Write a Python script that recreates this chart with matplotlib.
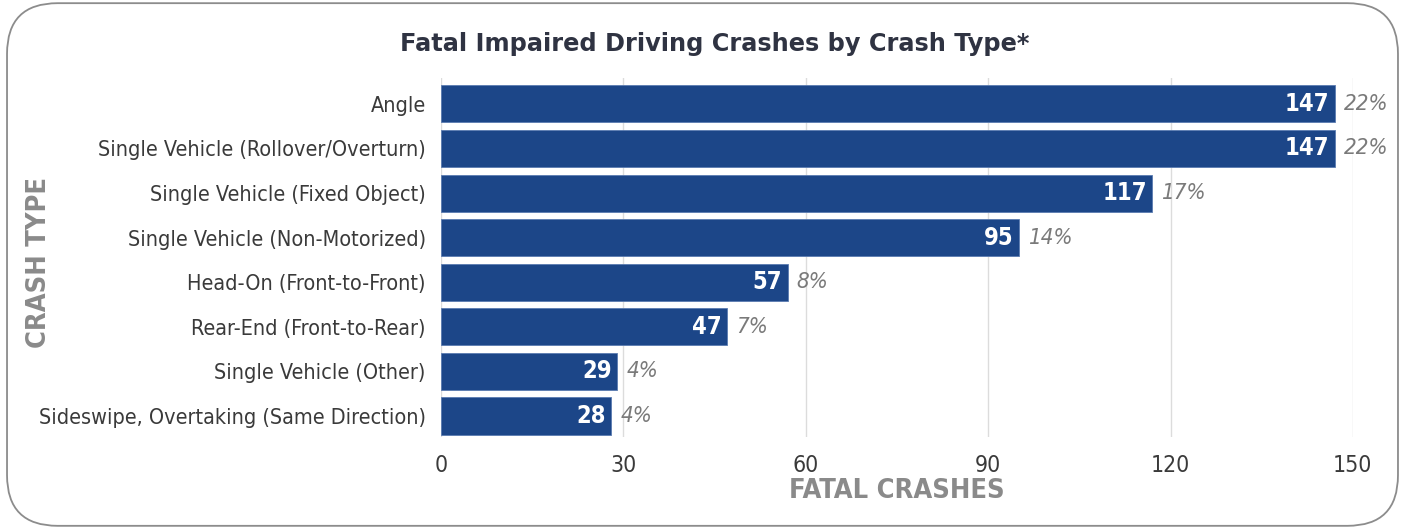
import matplotlib.pyplot as plt
from matplotlib.patches import FancyBboxPatch

# данные
crash_types = ['Angle', 'Single Vehicle (Rollover/Overturn)', 'Single Vehicle (Fixed Object)',
               'Single Vehicle (Non-Motorized)', 'Head-On (Front-to-Front)', 'Rear-End (Front-to-Rear)',
               'Single Vehicle (Other)', 'Sideswipe, Overtaking (Same Direction)']
crashes = [147, 147, 117, 95, 57, 47, 29, 28]
shares = ['22%', '22%', '17%', '14%', '8%', '7%', '4%', '4%']
x_ticks = [0, 30, 60, 90, 120, 150]

cond = dict(family='DejaVu Sans', stretch='condensed')
bar_color = '#1c4688'

fig = plt.figure(figsize=(14.05, 5.29), dpi=100)
ax = fig.add_axes([0.3139, 0.174, 0.649, 0.6786])

# рамка
frame = FancyBboxPatch((0.005, 0.006), 0.99, 0.988, boxstyle='round,pad=0,rounding_size=0.036',
                       transform=fig.transFigure, facecolor='white', edgecolor='#8c8c8c', lw=1.3,
                       mutation_aspect=14.05 / 5.29, zorder=-10)
fig.patches.append(frame)

y = range(len(crash_types))
ax.barh(y, crashes, height=0.83, color=bar_color, edgecolor='#5a7bb0', linewidth=0.6, zorder=3)

for i, (v, s) in enumerate(zip(crashes, shares)):
    ax.text(v - 0.9, i, str(v), ha='right', va='center', color='white', fontsize=17,
            fontweight='bold', zorder=4, **cond)
    ax.text(v + 1.5, i, s, ha='left', va='center', color='#7a7a7a', fontsize=16,
            style='italic', clip_on=False, **cond)

ax.set_xlim(0, 150)
ax.set_ylim(7.47, -0.58)
ax.set_xticks(x_ticks)
ax.set_xticklabels([str(t) for t in x_ticks], fontsize=16.5, color='#3a3a3a', **cond)
ax.set_yticks(list(y))
ax.set_yticklabels(crash_types, fontsize=15.5, color='#3a3a3a', **cond)
ax.tick_params(axis='y', length=0, pad=11)
ax.tick_params(axis='x', length=0, pad=12)
ax.grid(axis='x', color='#dcdcdc', lw=1, zorder=0)
for sp in ax.spines.values():
    sp.set_visible(False)
ax.axvline(0, color='#dcdcdc', lw=1.2, zorder=1)

ax.set_xlabel('FATAL CRASHES', fontsize=19.5, fontweight='bold', color='#8a8a8a', labelpad=1, **cond)
fig.text(0.028, 0.503, 'CRASH TYPE', rotation=90, ha='center', va='center',
         fontsize=19.5, fontweight='bold', color='#8a8a8a', **cond)

fig.text(0.509, 0.917, 'Fatal Impaired Driving Crashes by Crash Type*', ha='center', va='center',
         fontsize=17.3, fontweight='bold', color='#2f3342')

fig.savefig('out.png', dpi=100)
